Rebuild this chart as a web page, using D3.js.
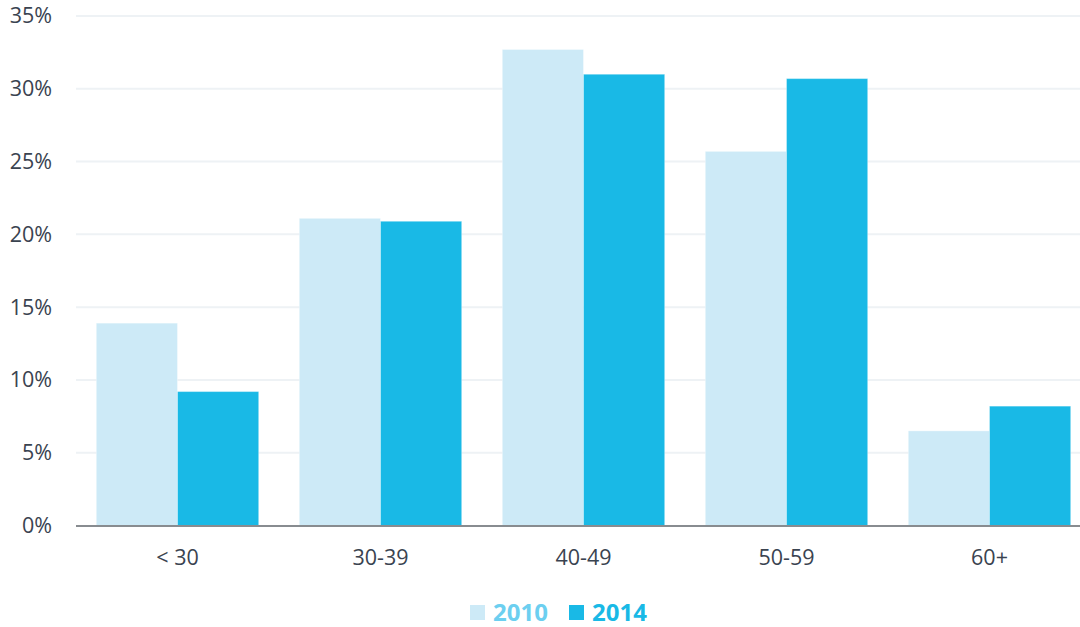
<!DOCTYPE html>
<html><head><meta charset="utf-8">
<script src="https://cdn.jsdelivr.net/npm/d3@7"></script>
<style>body{margin:0;background:#fff;}svg{display:block;font-family:"Open Sans",sans-serif;}</style>
</head><body><svg id="c" width="1080" height="627"></svg>
<script>
const categories = ["< 30", "30-39", "40-49", "50-59", "60+"];
const seriesNames = ["2010", "2014"];
const values2010 = [13.9, 21.1, 32.7, 25.7, 6.5];
const values2014 = [9.2, 20.9, 31.0, 30.7, 8.2];
const yTicks = [0, 5, 10, 15, 20, 25, 30, 35];
const barColors = ["#cdeaf7", "#19b9e6"];
const legendText = ["#6ccff0", "#19b9e6"];

const svg = d3.select("#c");
const x = d3.scaleBand().domain(categories).range([76, 1091]).paddingInner(0.2).paddingOuter(0.1);
const x1 = d3.scaleBand().domain(seriesNames).range([0, x.bandwidth()]);
const y = d3.scaleLinear().domain([0, 35]).range([525.5, 16]);

// gridlines
svg.append("g").selectAll("line").data(yTicks.filter(d => d > 0)).join("line")
  .attr("x1", 76).attr("x2", 1080).attr("y1", d => y(d)).attr("y2", d => y(d))
  .attr("stroke", "#eef2f5").attr("stroke-width", 2);

// y axis labels
const yAxis = d3.axisLeft(y).tickValues(yTicks).tickFormat(d => d + "%").tickSize(0).tickPadding(0);
const ya = svg.append("g").attr("transform", "translate(52,0)").call(yAxis);
ya.select(".domain").remove();
ya.selectAll("text").attr("font-size", 21.5).attr("fill", "#3a4350").attr("font-family", "Open Sans, sans-serif");

const data = categories.map((c, i) => ({c, v: [values2010[i], values2014[i]]}));
const g = svg.append("g").selectAll("g").data(data).join("g").attr("transform", d => `translate(${x(d.c)},0)`);
g.selectAll("rect").data(d => d.v.map((v, j) => ({s: seriesNames[j], v, j}))).join("rect")
  .attr("x", d => x1(d.s)).attr("width", x1.bandwidth())
  .attr("y", d => y(d.v)).attr("height", d => y(0) - y(d.v))
  .attr("fill", d => barColors[d.j]).attr("stroke", "rgba(255,255,255,0.35)").attr("stroke-width", 1);

// baseline
svg.append("line").attr("x1", 76).attr("x2", 1080).attr("y1", 526).attr("y2", 526)
  .attr("stroke", "#888c90").attr("stroke-width", 2);

// x axis labels
const xAxis = d3.axisBottom(x).tickSize(0).tickPadding(0);
const xa = svg.append("g").attr("transform", "translate(0,549)").call(xAxis);
xa.select(".domain").remove();
xa.selectAll("text").attr("font-size", 21.5).attr("fill", "#3a4350").attr("font-family", "Open Sans, sans-serif").attr("dy", "0.75em");

// legend
const legendX = [470, 569];
const lg = svg.append("g").selectAll("g").data(seriesNames).join("g")
  .attr("transform", (d, i) => `translate(${legendX[i]},605)`);
lg.append("rect").attr("width", 15).attr("height", 15).attr("fill", (d, i) => barColors[i]);
lg.append("text").attr("x", 23).attr("y", 16).text(d => d)
  .attr("font-size", 24).attr("font-weight", "bold").attr("fill", (d, i) => legendText[i]);
</script></body></html>
